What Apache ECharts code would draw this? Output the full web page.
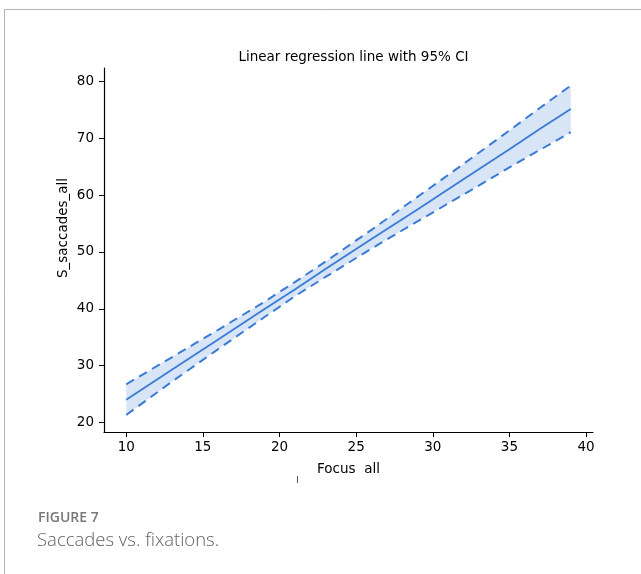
<!DOCTYPE html>
<html>
<head>
<meta charset="utf-8">
<script src="https://cdn.jsdelivr.net/npm/echarts@6/dist/echarts.min.js"></script>
<style>
  html, body { margin: 0; padding: 0; background: #fff; }
  #chart { width: 641px; height: 574px; }
</style>
</head>
<body>
<div id="chart"></div>
<script>
// Focus_all values at which the fit and its confidence band are sampled
const focusX = [10, 13, 16, 19, 21, 23, 26, 29, 32, 35, 37, 39];
// Fitted regression line
const fitY   = [24.0, 29.3, 34.6, 39.9, 43.4, 47.0, 52.3, 57.5, 62.8, 68.1, 71.7, 75.2];
// Upper / lower 95% confidence bounds
const upperY = [26.7, 31.5, 36.3, 41.2, 44.7, 48.3, 53.9, 59.7, 65.5, 71.4, 75.4, 79.3];
const lowerY = [21.3, 27.2, 32.9, 38.5, 42.2, 45.6, 50.6, 55.4, 60.1, 64.9, 68.0, 71.1];
// Tick labels
const xTicks = [10, 15, 20, 25, 30, 35, 40];
const yTicks = [20, 30, 40, 50, 60, 70, 80];

const BLUE = '#3a7bd5';
const pairs = (ys) => focusX.map((x, i) => [x, ys[i]]);

const chart = echarts.init(document.getElementById('chart'), null, { renderer: 'canvas' });
const axisFont = { fontFamily: 'DejaVu Sans', fontSize: 13.5, color: '#000' };

// Confidence band: one polygon following the upper bound, then the lower bound back
function renderBand(params, api) {
  if (params.dataIndex !== 0) return null;
  const pts = [];
  for (let i = 0; i < focusX.length; i++) pts.push(api.coord([focusX[i], upperY[i]]));
  for (let i = focusX.length - 1; i >= 0; i--) pts.push(api.coord([focusX[i], lowerY[i]]));
  return {
    type: 'polygon',
    shape: { points: pts },
    style: { fill: 'rgba(58,123,213,0.2)', stroke: null }
  };
}

chart.setOption({
  animation: false,
  backgroundColor: '#fff',
  title: {
    text: 'Linear regression line with 95% CI',
    left: 348.5, top: 45, textAlign: 'center',
    textStyle: { fontFamily: 'DejaVu Sans', fontSize: 13.5, fontWeight: 'normal', color: '#000' }
  },
  grid: { left: 104, top: 68, right: 48, bottom: 142, containLabel: false },
  xAxis: {
    type: 'value', min: 8.55, max: 40.45,
    axisLine: { lineStyle: { color: '#000', width: 1.2 } },
    axisTick: { show: true, length: 5, lineStyle: { color: '#000' }, customValues: xTicks },
    axisLabel: { ...axisFont, margin: 8, customValues: xTicks },
    splitLine: { show: false },
    name: 'Focus  all', nameLocation: 'middle', nameGap: 30,
    nameTextStyle: { fontFamily: 'DejaVu Sans', fontSize: 13.5, color: '#000' }
  },
  yAxis: {
    type: 'value', min: 18.3, max: 82.4,
    axisLine: { show: true, lineStyle: { color: '#000', width: 1.2 } },
    axisTick: { show: true, length: 5, lineStyle: { color: '#000' }, customValues: yTicks },
    axisLabel: { ...axisFont, margin: 10, customValues: yTicks },
    splitLine: { show: false }
  },
  series: [
    {
      name: 'band', type: 'custom', renderItem: renderBand,
      data: pairs(upperY), encode: { x: 0, y: 1 }, z: 1, silent: true
    },
    {
      name: 'lower', type: 'line', data: pairs(lowerY),
      symbol: 'none', lineStyle: { color: BLUE, width: 2, type: [9, 6] }, z: 3
    },
    {
      name: 'upper', type: 'line', data: pairs(upperY),
      symbol: 'none', lineStyle: { color: BLUE, width: 2, type: [9, 6] }, z: 3
    },
    {
      name: 'fit', type: 'line', data: pairs(fitY),
      symbol: 'none', lineStyle: { color: BLUE, width: 1.8 }, z: 4
    }
  ],
  graphic: [
    // page frame
    { type: 'line', shape: { x1: 4.5, y1: 9.5, x2: 641, y2: 9.5 }, style: { stroke: '#b5b5b5', lineWidth: 1 } },
    { type: 'line', shape: { x1: 4.5, y1: 9.5, x2: 4.5, y2: 574 }, style: { stroke: '#b5b5b5', lineWidth: 1 } },
    // y-axis title
    {
      type: 'text', x: 63, y: 228, rotation: Math.PI / 2,
      style: { text: 'S_saccades_all', fontFamily: 'DejaVu Sans', fontSize: 13.5, fill: '#000',
               align: 'center', verticalAlign: 'middle' }
    },
    { type: 'line', shape: { x1: 297.5, y1: 476, x2: 297.5, y2: 483 }, style: { stroke: '#555', lineWidth: 1 } },
    // caption
    {
      type: 'text', x: 38, y: 511,
      style: { text: 'FIGURE 7', fontFamily: 'Open Sans', fontSize: 14, fontWeight: 600, fill: '#777' }
    },
    {
      type: 'text', x: 37, y: 531,
      style: { text: 'Saccades vs. fixations.', fontFamily: 'Open Sans', fontSize: 18.5, fontWeight: 300, fill: '#5f5f5f' }
    }
  ]
});
</script>
</body>
</html>
